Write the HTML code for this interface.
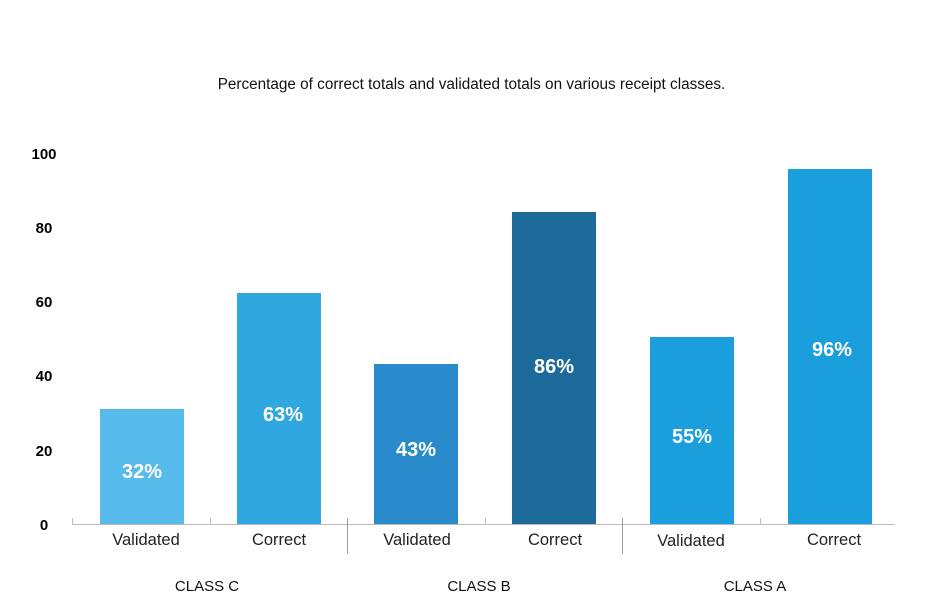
<!DOCTYPE html>
<html><head><style>
body{margin:0;background:#fff;width:935px;height:605px;overflow:hidden;position:relative;font-family:"Liberation Sans",sans-serif}
.a{position:absolute}
.bar{position:absolute;width:84px;bottom:81px}
.pct{position:absolute;color:#fff;font-weight:bold;font-size:20px;width:84px;text-align:center}
.y{position:absolute;left:30px;font-weight:bold;font-size:15px;width:28px;text-align:center}
.xl{position:absolute;font-size:16.5px;color:#222;width:140px;text-align:center;top:531px}
.cl{position:absolute;font-size:15px;color:#111;width:140px;text-align:center;top:578px}
</style></head><body>
<div class="a" style="left:0;width:943px;top:76px;text-align:center;font-size:15.3px;color:#111">Percentage of correct totals and validated totals on various receipt classes.</div>
<div class="y" style="top:146px">100</div>
<div class="y" style="top:220px">80</div>
<div class="y" style="top:294px">60</div>
<div class="y" style="top:368px">40</div>
<div class="y" style="top:443px">20</div>
<div class="y" style="top:517px">0</div>
<div class="a" style="left:72px;top:524px;width:823px;height:1px;background:#bbb"></div>
<div class="a" style="left:72px;top:518px;width:1px;height:6px;background:#bbb"></div>
<div class="a" style="left:210px;top:518px;width:1px;height:6px;background:#bbb"></div>
<div class="a" style="left:347px;top:518px;width:1px;height:36px;background:#999"></div>
<div class="a" style="left:485px;top:518px;width:1px;height:6px;background:#bbb"></div>
<div class="a" style="left:622px;top:518px;width:1px;height:36px;background:#999"></div>
<div class="a" style="left:760px;top:518px;width:1px;height:6px;background:#bbb"></div>
<div class="bar" style="left:100px;top:409px;background:#56bbea"></div>
<div class="bar" style="left:237px;top:293px;background:#31a7df"></div>
<div class="bar" style="left:374px;top:364px;background:#2a8bcc"></div>
<div class="bar" style="left:512px;top:212px;background:#1c6a9a"></div>
<div class="bar" style="left:650px;top:337px;background:#1a9fdc"></div>
<div class="bar" style="left:788px;top:169px;background:#1a9fdc"></div>
<div class="pct" style="left:100px;top:461px">32%</div>
<div class="pct" style="left:241px;top:404px">63%</div>
<div class="pct" style="left:374px;top:439px">43%</div>
<div class="pct" style="left:512px;top:356px">86%</div>
<div class="pct" style="left:650px;top:426px">55%</div>
<div class="pct" style="left:790px;top:339px">96%</div>
<div class="xl" style="left:76px">Validated</div>
<div class="xl" style="left:209px">Correct</div>
<div class="xl" style="left:347px">Validated</div>
<div class="xl" style="left:485px">Correct</div>
<div class="xl" style="left:621px;top:532px">Validated</div>
<div class="xl" style="left:764px">Correct</div>
<div class="cl" style="left:137px">CLASS C</div>
<div class="cl" style="left:409px">CLASS B</div>
<div class="cl" style="left:685px">CLASS A</div>
</body></html>
